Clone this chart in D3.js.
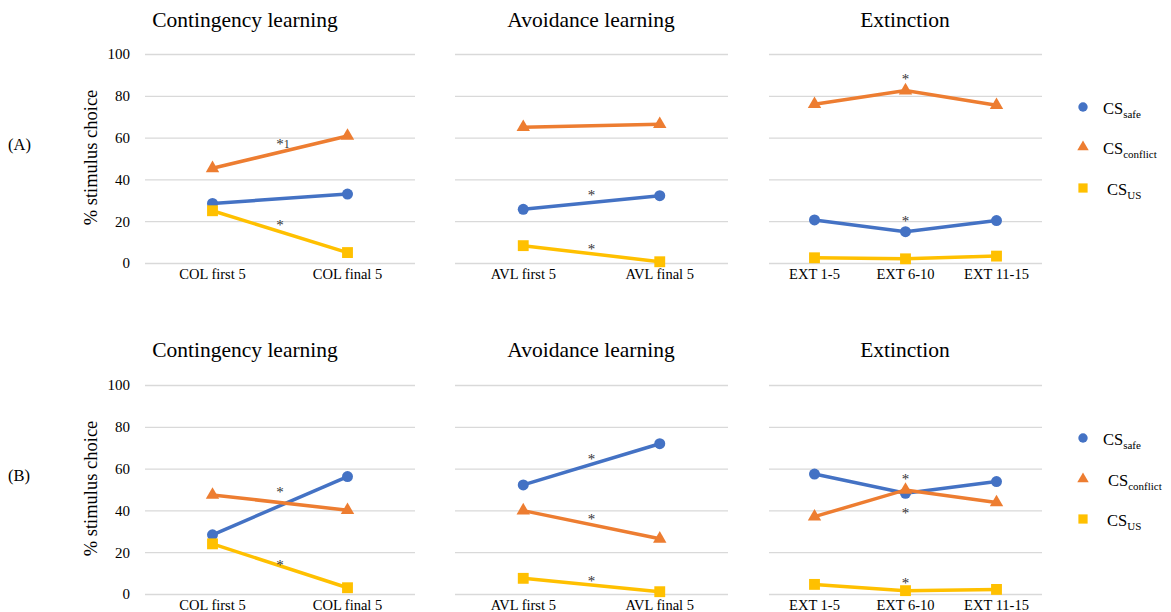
<!DOCTYPE html>
<html>
<head>
<meta charset="utf-8">
<script src="https://cdn.jsdelivr.net/npm/d3@7"></script>
<style>
  body { margin: 0; background: #fff; }
  svg, svg text { font-family: "Liberation Serif", "Times New Roman", "DejaVu Serif", serif; fill: #000; }
</style>
</head>
<body>
<svg id="chart" width="1171" height="612"></svg>
<script>
// --- Data ---
const seriesKeys = ["safe", "conflict", "US"];
const colCats = ["COL first 5", "COL final 5"];
const avlCats = ["AVL first 5", "AVL final 5"];
const extCats = ["EXT 1-5", "EXT 6-10", "EXT 11-15"];
const yTicks = [0, 20, 40, 60, 80, 100];
const panelTitles = ["Contingency learning", "Avoidance learning", "Extinction"];

// values per panel, order: CSsafe, CSconflict, CSUS
const colA = [[28.5, 33.0], [45.3, 60.8], [25.0, 5.0]];
const avlA = [[25.7, 32.2], [65.0, 66.4], [8.3, 0.6]];
const extA = [[20.6, 15.0, 20.3], [76.0, 82.5, 75.5], [2.5, 2.0, 3.3]];
const colB = [[28.3, 56.2], [47.4, 40.1], [24.0, 3.0]];
const avlB = [[52.2, 71.9], [39.9, 26.4], [7.5, 1.1]];
const extB = [[57.4, 48.2, 53.8], [37.0, 49.8, 43.8], [4.6, 1.6, 2.2]];

// significance markers: [category position, value, label, note]
const colAStars = [[0.5, 58.5, "*", "1"], [0.5, 19.6, "*", ""]];
const avlAStars = [[0.5, 34.0, "*", ""], [0.5, 8.1, "*", ""]];
const extAStars = [[1, 89.5, "*", ""], [1, 21.5, "*", ""]];
const colBStars = [[0.5, 50.3, "*", ""], [0.5, 15.3, "*", ""]];
const avlBStars = [[0.5, 66.1, "*", ""], [0.5, 37.4, "*", ""], [0.5, 7.7, "*", ""]];
const extBStars = [[1, 56.5, "*", ""], [1, 40.2, "*", ""], [1, 6.7, "*", ""]];

const colors = { safe: "#4472C4", conflict: "#ED7D31", US: "#FFC000" };
const legendSubs = { safe: "safe", conflict: "conflict", US: "US" };
const serif = "'Liberation Serif', 'DejaVu Serif', serif";

// --- Layout ---
const svg = d3.select("#chart");
const panelX = [[145, 415], [455, 728], [769, 1042]];
const titleX = [245, 591, 905];
const rows = [
    { label: "(A)", top: 54, bottom: 263, titleY: 27,
      panels: [[colCats, colA, colAStars], [avlCats, avlA, avlAStars], [extCats, extA, extAStars]],
      legendY: [107, 147, 188], legendTx: [1103, 1103, 1107] },
    { label: "(B)", top: 385, bottom: 594, titleY: 357,
      panels: [[colCats, colB, colBStars], [avlCats, avlB, avlBStars], [extCats, extB, extBStars]],
      legendY: [438, 479, 519], legendTx: [1103, 1108, 1107] }
];

function marker(sel, key, scale) {
    if (key === "safe") {
        sel.append("circle").attr("r", 5.5 * scale).attr("fill", colors.safe);
    } else if (key === "conflict") {
        sel.append("path").attr("d", d3.symbol(d3.symbolTriangle, 78 * scale * scale)()).attr("fill", colors.conflict);
    } else {
        sel.append("path").attr("d", d3.symbol(d3.symbolSquare, 118 * scale * scale)()).attr("fill", colors.US);
    }
}

rows.forEach(row => {
    const y = d3.scaleLinear().domain([0, 100]).range([row.bottom, row.top]);

    // row label
    svg.append("text")
        .attr("x", 8).attr("y", (row.top + row.bottom) / 2 - 14)
        .attr("dominant-baseline", "central")
        .style("font-family", serif)
        .style("font-size", "16.5px")
        .text(row.label);

    // y axis title
    svg.append("text")
        .attr("transform", `translate(97,${(row.top + row.bottom) / 2 - 1}) rotate(-90)`)
        .attr("text-anchor", "middle")
        .style("font-family", serif)
        .style("font-size", "18.5px")
        .text("% stimulus choice");

    // y tick labels
    svg.append("g")
        .attr("transform", `translate(${panelX[0][0]},0)`)
        .call(d3.axisLeft(y).tickValues(yTicks).tickSize(0).tickPadding(15))
        .call(g => g.select(".domain").remove())
        .selectAll("text")
        .style("font-size", "15px")
        .style("font-family", serif);

    row.panels.forEach(([cats, vals, stars], pi) => {
        const [x0, x1] = panelX[pi];
        const x = d3.scaleBand().domain(cats).range([x0, x1]).padding(0);
        const cx = i => x(cats[0]) + x.bandwidth() / 2 + i * x.step();
        const g = svg.append("g");

        // grid lines
        g.append("g")
            .attr("transform", `translate(${x0},0)`)
            .call(d3.axisRight(y).tickValues(yTicks).tickSize(x1 - x0).tickFormat(""))
            .call(a => a.select(".domain").remove())
            .selectAll("line")
            .attr("stroke", "#d9d9d9")
            .attr("stroke-width", 1.3);

        // x labels
        g.append("g")
            .attr("transform", `translate(0,${row.bottom})`)
            .call(d3.axisBottom(x).tickSize(0).tickPadding(6))
            .call(a => a.select(".domain").remove())
            .selectAll("text")
            .style("font-size", "14.5px")
            .style("font-family", serif);

        // title
        svg.append("text")
            .attr("x", titleX[pi]).attr("y", row.titleY)
            .attr("text-anchor", "middle")
            .style("font-family", serif)
            .style("font-size", "21.5px")
            .text(panelTitles[pi]);

        // series lines and markers
        const line = d3.line().x((d, i) => cx(i)).y(d => y(d));
        seriesKeys.forEach((key, si) => {
            g.append("path")
                .attr("d", line(vals[si]))
                .attr("fill", "none")
                .attr("stroke", colors[key])
                .attr("stroke-width", 3.5);
            g.selectAll(null)
                .data(vals[si])
                .join("g")
                .attr("transform", (d, i) => `translate(${cx(i)},${y(d)})`)
                .each(function () { marker(d3.select(this), key, 1); });
        });

        // significance stars
        const st = g.selectAll(null)
            .data(stars)
            .join("text")
            .attr("x", d => cx(d[0]) + (d[3] ? 3 : 0))
            .attr("y", d => y(d[1]) + 8)
            .attr("text-anchor", "middle")
            .style("font-family", serif)
            .style("font-size", "15px")
            .style("fill", "#333");
        st.append("tspan").text(d => d[2]);
        st.append("tspan").attr("dy", -1).style("font-size", "12px").text(d => d[3]);
    });

    // legend
    seriesKeys.forEach((key, i) => {
        const lg = svg.append("g").attr("transform", `translate(1083,${row.legendY[i]})`);
        marker(lg, key, 0.85);
        const t = svg.append("text")
            .attr("x", row.legendTx[i]).attr("y", row.legendY[i] + 7)
            .style("font-family", serif)
            .style("font-size", "16.5px");
        t.append("tspan").text("CS");
        t.append("tspan").attr("dy", 4).style("font-size", "11px").text(legendSubs[key]);
    });
});
</script>
</body>
</html>
